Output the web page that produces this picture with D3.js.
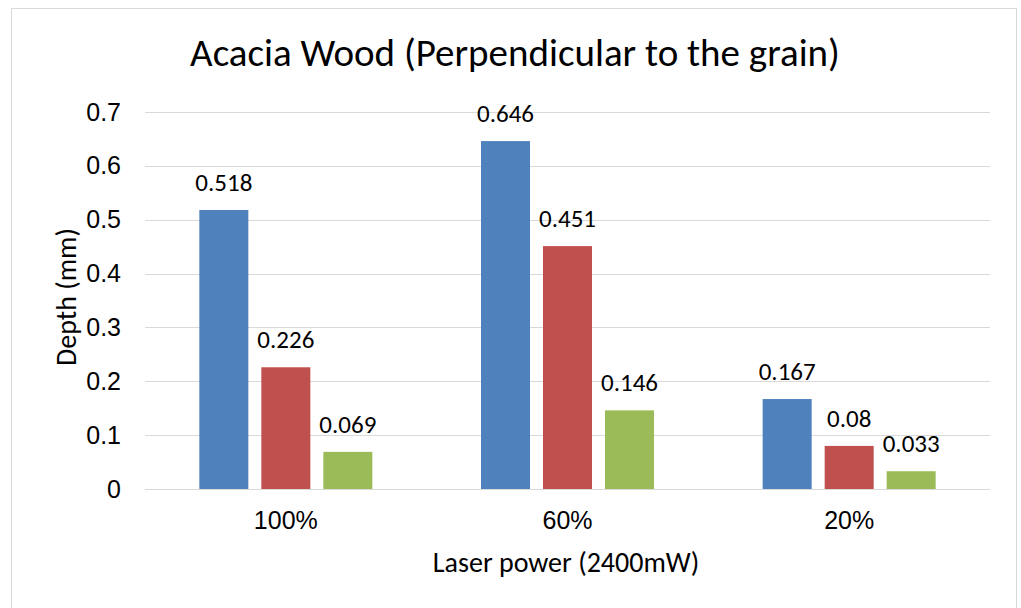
<!DOCTYPE html>
<html>
<head>
<meta charset="utf-8">
<script src="https://cdn.jsdelivr.net/npm/d3@7"></script>
<style>
  body { margin: 0; background: #fff; }
  svg { font-family: Calibri, Carlito, "Open Sans", sans-serif; }
  .grid line { stroke: #d9d9d9; stroke-width: 1px; }
  .tick text { fill: #000; }
</style>
</head>
<body>
<svg id="chart" width="1021" height="608"></svg>
<script>
var categories = ["100%", "60%", "20%"];
var seriesNames = ["s1", "s2", "s3"];
var s1 = [0.518, 0.646, 0.167];
var s2 = [0.226, 0.451, 0.08];
var s3 = [0.069, 0.146, 0.033];
var yTicks = [0, 0.1, 0.2, 0.3, 0.4, 0.5, 0.6, 0.7];
var colors = ["#4f81bd", "#c0504d", "#9bbb59"];

var margin = {left: 145, right: 31, top: 112, bottom: 119};
var width = 1021 - margin.left - margin.right;
var height = 608 - margin.top - margin.bottom;

var svg = d3.select("#chart");

svg.append("rect")
  .attr("x", 11.5).attr("y", 8.5)
  .attr("width", 1005).attr("height", 620)
  .attr("fill", "#fff").attr("stroke", "#d9d9d9");

var g = svg.append("g")
  .attr("transform", "translate(" + margin.left + "," + margin.top + ")");

var x = d3.scaleBand().domain(categories).range([0, width]);
var y = d3.scaleLinear().domain([0, 0.7]).range([height, 0]);

// gridlines
g.append("g").attr("class", "grid")
  .selectAll("line").data(yTicks).enter().append("line")
  .attr("x1", 0).attr("x2", width)
  .attr("y1", function(d) { return Math.round(y(d)) + 0.5; })
  .attr("y2", function(d) { return Math.round(y(d)) + 0.5; });

// y axis labels
var yAxis = d3.axisLeft(y).tickValues(yTicks).tickSize(0).tickPadding(24)
  .tickFormat(function(d) { return d === 0 ? "0" : d3.format(".1f")(d); });
g.append("g").call(yAxis)
  .call(function(s) { s.select(".domain").remove(); })
  .selectAll("text").style("font-size", "25px");

// x axis labels
var xAxis = d3.axisBottom(x).tickSize(0).tickPadding(22);
g.append("g").attr("transform", "translate(0," + height + ")").call(xAxis)
  .call(function(s) { s.select(".domain").remove(); })
  .selectAll("text").style("font-size", "25px");

var barW = 49, step = 62;
var series = [s1, s2, s3];
series.forEach(function(vals, si) {
  var grp = g.append("g").attr("class", "series-" + seriesNames[si]);
  grp.selectAll("rect").data(vals).enter().append("rect")
    .attr("x", function(d, i) { return x(categories[i]) + x.bandwidth() / 2 + (si - 1) * step - barW / 2; })
    .attr("y", function(d) { return y(d); })
    .attr("width", barW)
    .attr("height", function(d) { return height - y(d); })
    .attr("fill", colors[si]);
  grp.selectAll("text").data(vals).enter().append("text")
    .attr("x", function(d, i) { return x(categories[i]) + x.bandwidth() / 2 + (si - 1) * step; })
    .attr("y", function(d) { return y(d) - 19; })
    .attr("text-anchor", "middle")
    .style("font-size", "25px")
    .text(function(d) { return d; });
});

svg.append("text")
  .attr("x", 515).attr("y", 66)
  .attr("text-anchor", "middle")
  .style("font-size", "39px")
  .text("Acacia Wood (Perpendicular to the grain)");

svg.append("text")
  .attr("x", 566).attr("y", 572)
  .attr("text-anchor", "middle")
  .style("font-size", "28px")
  .text("Laser power (2400mW)");

svg.append("text")
  .attr("transform", "translate(76,297) rotate(-90)")
  .attr("text-anchor", "middle")
  .style("font-size", "28px")
  .text("Depth (mm)");
</script>
</body>
</html>
